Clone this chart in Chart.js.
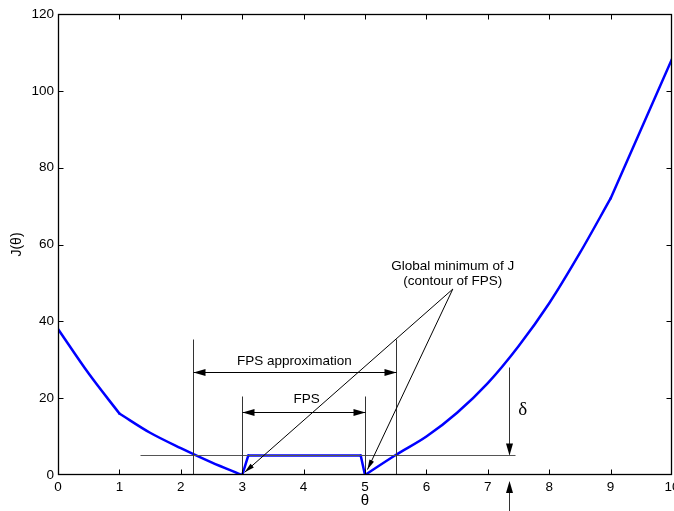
<!DOCTYPE html>
<html>
<head>
<meta charset="utf-8">
<script src="https://cdn.jsdelivr.net/npm/chart.js@4/dist/chart.umd.min.js"></script>
<style>
  html,body{margin:0;padding:0;background:#fff;}
  canvas{display:block;}
</style>
</head>
<body>
<canvas id="chart" width="674" height="511"></canvas>
<script>
/* DATA */
const theta=[0,0.5,1,1.5,2,2.5,3,3.1,4.93,5,5.5,6,6.5,7,7.5,8,8.5,9,10];
const J=[38,26.4,16,11,7,3.3,0,5.1,5.1,0,5.2,10,16.2,23.9,33.5,44.7,57.8,72,108.3];
// corners of J where the curve is split into separate smooth pieces
const corners=[1,3,3.1,4.93,5,9];
const xTicks=[0,1,2,3,4,5,6,7,8,9,10];
const yTicks=[0,20,40,60,80,100,120];

/* markers drawn over the curve */
const deltaLevel=5.2, deltaFrom=1.34, deltaTo=7.44;
const approxX=[2.2,5.5], approxTop=35.5, approxArrowY=26.7;
const fpsX=[3,5], fpsTop=20.5, fpsArrowY=16.4;
const deltaX=7.35, deltaTop=28;
const noteAt=[6.43,48.4], noteTips=[[3.04,0.7],[5.04,1.4]];

const SANS='"Liberation Sans", Arial, sans-serif';
const SERIF='"Liberation Serif", "Times New Roman", serif';

// split the curve at its corners
function pieces(){
  const out=[];let cur=[];
  theta.forEach((t,i)=>{
    cur.push({x:t,y:J[i]});
    if(corners.includes(t)&&cur.length>1){out.push(cur);cur=[{x:t,y:J[i]}];}
  });
  if(cur.length>1)out.push(cur);
  return out;
}

function arrowHead(ctx,x,y,ang,len,half){
  ctx.beginPath();
  ctx.moveTo(x,y);
  ctx.lineTo(x-len*Math.cos(ang)+half*Math.sin(ang),y-len*Math.sin(ang)-half*Math.cos(ang));
  ctx.lineTo(x-len*Math.cos(ang)-half*Math.sin(ang),y-len*Math.sin(ang)+half*Math.cos(ang));
  ctx.closePath();
  ctx.fill();
}

function line(ctx,x1,y1,x2,y2){
  ctx.beginPath();ctx.moveTo(x1,y1);ctx.lineTo(x2,y2);ctx.stroke();
}

/* ANNOTATIONS */
const notes={
  id:"notes",
  afterDatasetsDraw(chart){
    const {ctx,scales:{x,y}}=chart;
    const px=v=>Math.round(x.getPixelForValue(v))+0.5;
    const py=v=>Math.round(y.getPixelForValue(v))+0.5;
    const y0=y.getPixelForValue(0);
    ctx.save();
    ctx.lineWidth=1;

    // delta level
    ctx.strokeStyle="#555";
    line(ctx,px(deltaFrom),py(deltaLevel),px(deltaTo),py(deltaLevel));

    // bounds of both sets
    ctx.strokeStyle="#333";
    approxX.forEach(v=>line(ctx,px(v),py(approxTop),px(v),y0));
    fpsX.forEach(v=>line(ctx,px(v),py(fpsTop),px(v),y0));

    // double arrows
    ctx.strokeStyle="#000";ctx.fillStyle="#000";
    [[approxX,approxArrowY],[fpsX,fpsArrowY]].forEach(([b,v])=>{
      const a=px(b[0]),c=px(b[1]),h=py(v);
      line(ctx,a,h,c,h);
      arrowHead(ctx,a,h,Math.PI,12,3.5);
      arrowHead(ctx,c,h,0,12,3.5);
    });

    // delta arrow
    ctx.strokeStyle="#333";ctx.fillStyle="#000";
    const dx=px(deltaX);
    line(ctx,dx,py(deltaTop),dx,py(deltaLevel)-1);
    arrowHead(ctx,dx,py(deltaLevel),Math.PI/2,12,3.5);
    line(ctx,dx,chart.height,dx,y0+8);
    arrowHead(ctx,dx,y0+6,-Math.PI/2,12,3.5);

    // pointers to the contour
    ctx.strokeStyle="#000";
    const ox=x.getPixelForValue(noteAt[0]),oy=y.getPixelForValue(noteAt[1]);
    noteTips.forEach(([tx,ty])=>{
      const X=x.getPixelForValue(tx),Y=y.getPixelForValue(ty);
      line(ctx,ox,oy,X,Y);
      arrowHead(ctx,X,Y,Math.atan2(Y-oy,X-ox),10,2.5);
    });

    // texts
    ctx.fillStyle="#000";
    ctx.textAlign="center";ctx.textBaseline="middle";
    ctx.font="13.5px "+SANS;
    ctx.fillText("FPS approximation",x.getPixelForValue(3.85),y.getPixelForValue(29.7));
    ctx.fillText("FPS",x.getPixelForValue(4.05),y.getPixelForValue(19.8));
    ctx.fillText("Global minimum of J",x.getPixelForValue(6.43),y.getPixelForValue(54.4));
    ctx.fillText("(contour of FPS)",x.getPixelForValue(6.43),y.getPixelForValue(50.4));
    ctx.font="19px "+SERIF;
    ctx.fillText("δ",x.getPixelForValue(7.57),y.getPixelForValue(17));
    ctx.restore();
  }
};

/* BOX + INWARD TICKS */
const frame={
  id:"frame",
  afterDraw(chart){
    const {ctx,chartArea:a,scales:{x,y}}=chart;
    const L=Math.round(a.left)+0.5,R=Math.round(a.right)-0.5,T=Math.round(a.top)+0.5,B=Math.round(a.bottom)-0.5;
    ctx.save();
    ctx.strokeStyle="#000";ctx.lineWidth=1.3;
    ctx.strokeRect(L,T,R-L,B-T);
    ctx.lineWidth=1;
    xTicks.slice(1,-1).forEach(v=>{
      const p=Math.round(x.getPixelForValue(v))+0.5;
      line(ctx,p,B,p,B-5);
      line(ctx,p,T,p,T+5);
    });
    yTicks.slice(1,-1).forEach(v=>{
      const p=Math.round(y.getPixelForValue(v))+0.5;
      line(ctx,L,p,L+5,p);
      line(ctx,R,p,R-5,p);
    });
    ctx.restore();
  }
};

new Chart(document.getElementById("chart"),{
  type:"line",
  data:{
    datasets:pieces().map(d=>({
      data:d,
      borderColor:"#0000ff",
      borderWidth:2.5,
      borderCapStyle:"round",
      borderJoinStyle:"round",
      pointRadius:0,
      cubicInterpolationMode:"monotone",
      fill:false
    }))
  },
  options:{
    responsive:false,
    animation:false,
    devicePixelRatio:1,
    layout:{padding:{top:14,right:2,left:0,bottom:0}},
    plugins:{legend:{display:false},tooltip:{enabled:false}},
    scales:{
      x:{
        type:"linear",min:0,max:10,
        afterBuildTicks:s=>{s.ticks=xTicks.map(v=>({value:v}));},
        ticks:{color:"#000",font:{family:SANS,size:13.5},padding:4,maxRotation:0,autoSkip:false},
        grid:{display:false,drawTicks:false},
        border:{display:false},
        title:{display:true,text:"θ",color:"#000",font:{family:SANS,size:15},padding:{top:0,bottom:1}},
        afterFit:s=>{s.height=36;s.paddingLeft=0;s.paddingRight=0;}
      },
      y:{
        type:"linear",min:0,max:120,
        afterBuildTicks:s=>{s.ticks=yTicks.map(v=>({value:v}));},
        ticks:{color:"#000",font:{family:SANS,size:13.5},padding:4,autoSkip:false},
        grid:{display:false,drawTicks:false},
        border:{display:false},
        title:{display:true,text:"J(θ)",color:"#000",font:{family:SANS,size:14},padding:{top:9,bottom:0}},
        afterFit:s=>{s.width=58;s.paddingTop=0;s.paddingBottom=0;}
      }
    }
  },
  plugins:[notes,frame]
});
</script>
</body>
</html>
